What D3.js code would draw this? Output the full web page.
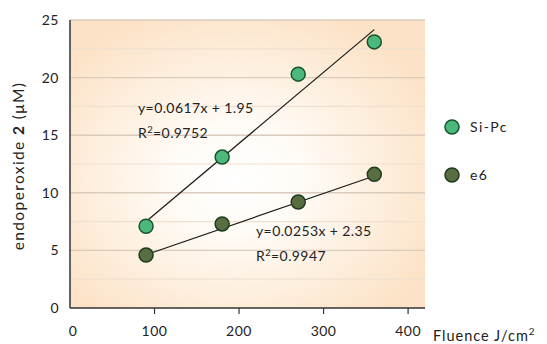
<!DOCTYPE html>
<html>
<head>
<meta charset="utf-8">
<script src="https://cdn.jsdelivr.net/npm/d3@7"></script>
<style>
  body { margin: 0; background: #fff; }
  text { font-family: "Lato", "Open Sans", sans-serif; fill: #222; }
</style>
</head>
<body>
<div id="chart"></div>
<script>
// data
const fluence = [90, 180, 270, 360];
const siPc = [7.1, 13.1, 20.3, 23.1];
const e6 = [4.6, 7.3, 9.2, 11.6];
const fits = [
  { name: 'Si-Pc', slope: 0.0617, icpt: 1.95, eq: 'y=0.0617x + 1.95', r2: '0.9752' },
  { name: 'e6', slope: 0.0253, icpt: 2.35, eq: 'y=0.0253x + 2.35', r2: '0.9947' }
];
const xTicks = [0, 100, 200, 300, 400];
const yTicks = [0, 5, 10, 15, 20, 25];

const W = 547, H = 344;
const margin = { top: 20, right: 122, bottom: 36, left: 70 };
const width = W - margin.left - margin.right;
const height = H - margin.top - margin.bottom;

const svg = d3.select('#chart').append('svg')
  .attr('width', W).attr('height', H);

const defs = svg.append('defs');
const grad = defs.append('radialGradient')
  .attr('id', 'bg').attr('cx', '0.47').attr('cy', '0.55').attr('r', '0.62');
grad.append('stop').attr('offset', '0').attr('stop-color', '#ffffff');
grad.append('stop').attr('offset', '0.3').attr('stop-color', '#fffbf6');
grad.append('stop').attr('offset', '1').attr('stop-color', '#fce2c6');

const g = svg.append('g').attr('transform', `translate(${margin.left},${margin.top})`);

const x = d3.scaleLinear().domain([0, 420]).range([0, width]);
const y = d3.scaleLinear().domain([0, 25]).range([height, 0]);

g.append('rect').attr('width', width).attr('height', height).attr('fill', 'url(#bg)');

// gridlines: major every 5, minor at 2.5
const minor = d3.range(2.5, 25, 5);
g.selectAll('.minor').data(minor).enter().append('line')
  .attr('x1', 0).attr('x2', width)
  .attr('y1', d => y(d)).attr('y2', d => y(d))
  .attr('stroke', '#efe0d0').attr('stroke-width', 1.2);
g.selectAll('.major').data(yTicks.slice(1)).enter().append('line')
  .attr('x1', 0).attr('x2', width)
  .attr('y1', d => y(d)).attr('y2', d => y(d))
  .attr('stroke', '#dacbbb').attr('stroke-width', 1.4);

// axes
g.append('line').attr('x1', 0).attr('x2', 0).attr('y1', 0).attr('y2', height)
  .attr('stroke', '#333').attr('stroke-width', 1.5);
g.append('line').attr('x1', 0).attr('x2', width).attr('y1', height).attr('y2', height)
  .attr('stroke', '#333').attr('stroke-width', 1.5);
g.selectAll('.xtick').data(xTicks.slice(1)).enter().append('line')
  .attr('x1', d => x(d)).attr('x2', d => x(d))
  .attr('y1', height).attr('y2', height + 6)
  .attr('stroke', '#333').attr('stroke-width', 1.2);
g.selectAll('.xlab').data(xTicks).enter().append('text')
  .attr('x', d => x(d) + (d === 0 ? 3 : 0)).attr('y', height + 28)
  .attr('text-anchor', 'middle').style('font-size', '14px').style('letter-spacing', '0.5px')
  .text(d => d);
g.selectAll('.ylab').data(yTicks).enter().append('text')
  .attr('x', -11).attr('y', d => y(d)).attr('dy', '0.35em')
  .attr('text-anchor', 'end').style('font-size', '14px').style('letter-spacing', '0.5px')
  .text(d => d);

// axis titles
const xt = svg.append('text').attr('x', 433).attr('y', H - 3)
  .style('font-size', '14.5px').style('letter-spacing', '1px');
xt.append('tspan').text('Fluence J/cm');
xt.append('tspan').attr('dy', -6).style('font-size', '10px').text('2');

const yt = svg.append('text')
  .attr('transform', `translate(24,${margin.top + height / 2 + 2}) rotate(-90)`)
  .attr('text-anchor', 'middle').style('font-size', '15.5px').style('letter-spacing', '1.4px');
yt.append('tspan').text('endoperoxide ');
yt.append('tspan').style('font-weight', 'bold').text('2');
yt.append('tspan').text(' (\u03bcM)');

// fit lines
const line = d3.line().x(d => x(d[0])).y(d => y(d[1]));
fits.forEach(f => {
  const x0 = fluence[0], x1 = fluence[fluence.length - 1];
  g.append('path')
    .attr('d', line([[x0, f.slope * x0 + f.icpt], [x1, f.slope * x1 + f.icpt]]))
    .attr('stroke', '#1a1a1a').attr('stroke-width', 1.2).attr('fill', 'none');
});

// points
const series = [
  { name: 'Si-Pc', vals: siPc, fill: '#4db87b', stroke: '#17532b' },
  { name: 'e6', vals: e6, fill: '#586e40', stroke: '#1c3b1c' }
];
series.forEach(s => {
  g.selectAll(null).data(s.vals).enter().append('circle')
    .attr('cx', (d, i) => x(fluence[i])).attr('cy', d => y(d))
    .attr('r', 7).attr('fill', s.fill).attr('stroke', s.stroke).attr('stroke-width', 1.5);
});

// equations
const eqPos = [{ x: 138, y: 113 }, { x: 256, y: 236 }];
fits.forEach((f, i) => {
  const p = eqPos[i];
  svg.append('text').attr('x', p.x).attr('y', p.y)
    .style('font-size', '14px').style('letter-spacing', '0.4px').text(f.eq);
  const r = svg.append('text').attr('x', p.x).attr('y', p.y + 25)
    .style('font-size', '14px').style('letter-spacing', '0.4px');
  r.append('tspan').text('R');
  r.append('tspan').attr('dy', -5).style('font-size', '9.5px').text('2');
  r.append('tspan').attr('dy', 5).text('=' + f.r2);
});

// legend
const leg = svg.selectAll('.leg').data(series).enter().append('g')
  .attr('transform', (d, i) => `translate(452,${127 + i * 48})`);
leg.append('circle').attr('r', 7)
  .attr('fill', d => d.fill).attr('stroke', d => d.stroke).attr('stroke-width', 1.5);
leg.append('text').attr('x', 18).attr('dy', '0.35em')
  .style('font-size', '14px').style('letter-spacing', '1.4px').text(d => d.name);
</script>
</body>
</html>
